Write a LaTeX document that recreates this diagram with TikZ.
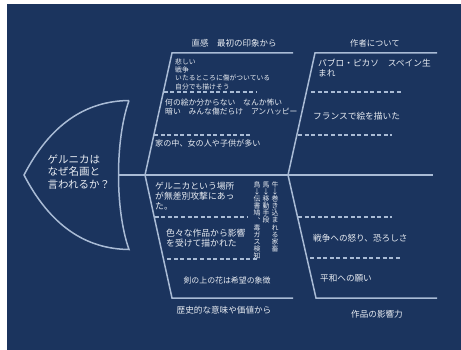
\documentclass[tikz,border=0pt]{standalone}
\usepackage{fontspec}
\newfontfamily\jp{Noto Sans CJK JP}
\definecolor{bgnavy}{HTML}{1B345E}
\definecolor{bone}{HTML}{A9BBD5}
\definecolor{txt}{HTML}{E9EDF3}
\tikzset{
  solidline/.style={draw=bone, line width=1.5pt},
  dashline/.style={draw=bone, line width=1.3pt, dash pattern=on 4pt off 2.6pt},
  lbl/.style={text=txt, inner sep=0pt, anchor=west},
  clbl/.style={text=txt, inner sep=0pt, anchor=center},
  vlbl/.style={text=txt, inner sep=0pt, anchor=north, align=center, font=\jp\fontsize{6.9}{7.1}\selectfont},
}
\begin{document}
\begin{tikzpicture}[x=1pt,y=-1pt]
\useasboundingbox (0,0) rectangle (461,350);
\fill[white] (0,0) rectangle (461,350);
\fill[bgnavy] (7,4) rectangle (461,350);
% head
\coordinate (tip) at (24,175);
\coordinate (htop) at (129,100.5);
\coordinate (hbot) at (129,249.5);
\coordinate (hmid) at (118.5,175);
\draw[solidline] (htop) .. controls (85,101) and (50,125) .. (tip)
  .. controls (50,225) and (85,249) .. (hbot)
  .. controls (115,210) and (115,140) .. (htop);
% spine
\coordinate (spend) at (433,175);
\draw[solidline] (hmid) -- (spend);
% bone 1
\coordinate (j1) at (145,175);
\coordinate (u1a) at (172,53);
\coordinate (u1b) at (293,53);
\coordinate (l1a) at (172,298);
\coordinate (l1b) at (293,298);
\draw[solidline] (u1b) -- (u1a) -- (j1) -- (l1a) -- (l1b);
% bone 2
\coordinate (j2) at (288,175);
\coordinate (u2a) at (315,53);
\coordinate (u2b) at (437,53);
\coordinate (l2a) at (316,298);
\coordinate (l2b) at (437,298);
\draw[solidline] (u2b) -- (u2a) -- (j2) -- (l2a) -- (l2b);
% dashed separators
\coordinate (d1s) at (163.5,92);  \coordinate (d1e) at (257,92);
\coordinate (d2s) at (154,135);   \coordinate (d2e) at (252,135);
\coordinate (d3s) at (154.5,217); \coordinate (d3e) at (247,217);
\coordinate (d4s) at (167,259);   \coordinate (d4e) at (258,259);
\coordinate (d5s) at (311,92);    \coordinate (d5e) at (402,92);
\coordinate (d6s) at (298,135);   \coordinate (d6e) at (392,135);
\coordinate (d7s) at (298,217);   \coordinate (d7e) at (392,217);
\coordinate (d8s) at (310,258);   \coordinate (d8e) at (402,258);
\foreach \s/\e in {d1s/d1e,d2s/d2e,d3s/d3e,d4s/d4e,d5s/d5e,d6s/d6e,d7s/d7e,d8s/d8e}
  \draw[dashline] (\s) -- (\e);
% head text
\begin{scope}[every node/.append style={font=\jp\fontsize{10.5}{13}\selectfont}]
\node[lbl] (h1) at (47.5,159) {ゲルニカは};
\node[lbl] (h2) at (47.5,172) {なぜ名画と};
\node[lbl] (h3) at (47.5,185) {言われるか？};
\end{scope}
% bone titles
\node[clbl, font=\jp\fontsize{8.5}{10}\selectfont] (t1) at (234,43) {直感　最初の印象から};
\node[clbl, font=\jp\fontsize{8.3}{10}\selectfont] (t2) at (375,43) {作者について};
\node[clbl, font=\jp\fontsize{8.6}{10}\selectfont] (t3) at (224,310) {歴史的な意味や価値から};
\node[clbl, font=\jp\fontsize{8.6}{10}\selectfont] (t4) at (377,314) {作品の影響力};
% upper bone 1
\begin{scope}[every node/.append style={font=\jp\fontsize{6.8}{8}\selectfont}]
\node[lbl] (a1) at (175,61.7) {悲しい};
\node[lbl] (a2) at (175,70) {戦争};
\node[lbl] (a3) at (175,78.3) {いたるところに傷がついている};
\node[lbl] (a4) at (175,86.7) {自分でも描けそう};
\end{scope}
\begin{scope}[every node/.append style={font=\jp\fontsize{7.8}{9}\selectfont}]
\node[lbl] (b1) at (165,102.7) {何の絵か分からない　なんか怖い};
\node[lbl] (b2) at (165,111.7) {暗い　みんな傷だらけ　アンハッピー};
\end{scope}
\node[lbl, font=\jp\fontsize{8.1}{9}\selectfont] (c1) at (155,143.3) {家の中、女の人や子供が多い};
% upper bone 2
\begin{scope}[every node/.append style={font=\jp\fontsize{8.7}{10}\selectfont}]
\node[lbl] (e1) at (318,63) {パブロ・ピカソ　スペイン生};
\node[lbl] (e2) at (318,73) {まれ};
\node[lbl] (f1) at (313,116) {フランスで絵を描いた};
\end{scope}
% lower bone 1
\begin{scope}[every node/.append style={font=\jp\fontsize{8.8}{10}\selectfont}]
\node[lbl] (g1) at (155,186) {ゲルニカという場所};
\node[lbl] (g2) at (155,196) {が無差別攻撃にあっ};
\node[lbl] (g3) at (155,206) {た。};
\node[lbl] (k1) at (166,233) {色々な作品から影響};
\node[lbl] (k2) at (166,243) {を受けて描かれた};
\end{scope}
\node[clbl, font=\jp\fontsize{7.9}{9}\selectfont] (m1) at (227,280) {剣の上の花は希望の象徴};
% vertical text columns
\node[vlbl] (v1) at (275,181.5) {牛\\↓\\巻\\き\\込\\ま\\れ\\る\\家\\畜};
\node[vlbl] (v2) at (266,181.5) {馬\\↓\\移\\動\\手\\段};
\node[vlbl] (v3) at (257,181.5) {鳥\\↓\\伝\\書\\鳩\\︑\\毒\\ガ\\ス\\検\\知};
% lower bone 2
\begin{scope}[every node/.append style={font=\jp\fontsize{8.6}{10}\selectfont}]
\node[lbl] (n1) at (313,238) {戦争への怒り、恐ろしさ};
\node[lbl] (n2) at (320,278) {平和への願い};
\end{scope}
\end{tikzpicture}
\end{document}
